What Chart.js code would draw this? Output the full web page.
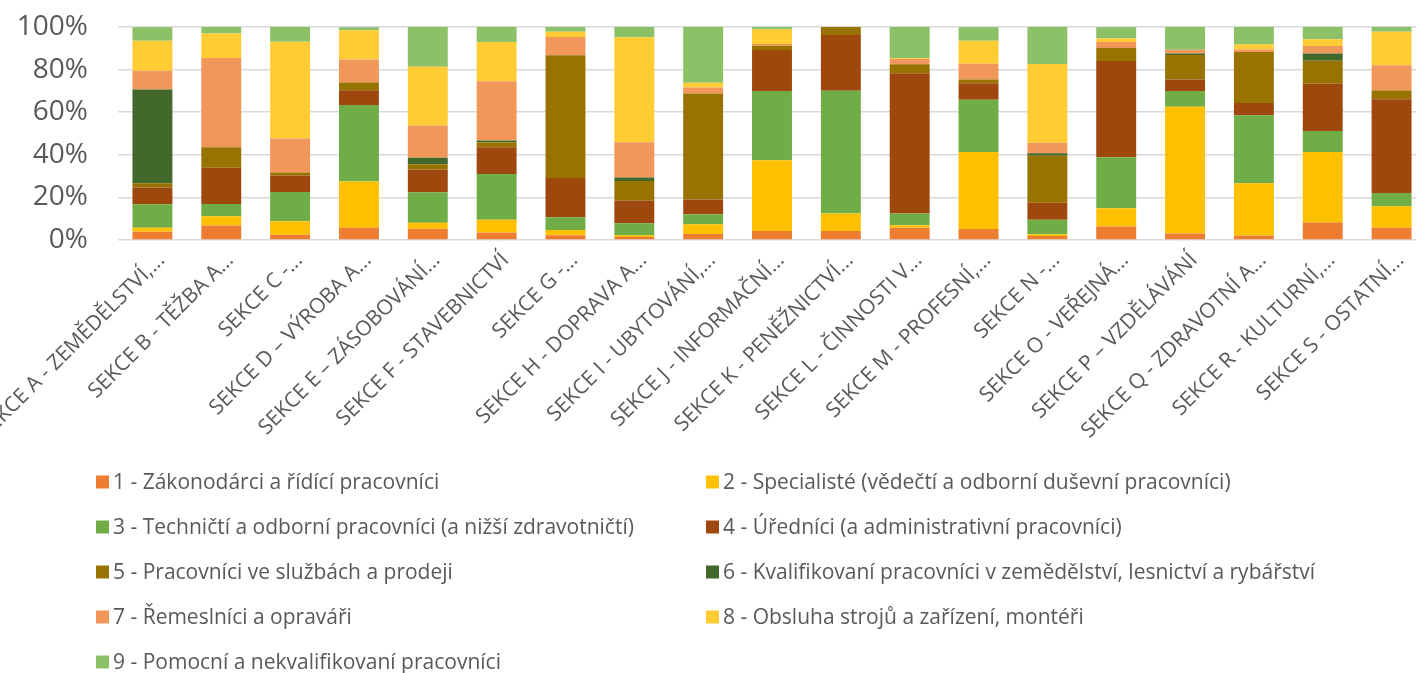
<!DOCTYPE html>
<html lang="cs">
<head>
<meta charset="utf-8">
<script src="https://cdn.jsdelivr.net/npm/chart.js@4/dist/chart.umd.min.js"></script>
<style>
  html, body { margin: 0; padding: 0; overflow: hidden; background: #ffffff; }
  #c { position: absolute; left: 0; top: 0; }
</style>
</head>
<body>
<canvas id="c" width="1426" height="673"></canvas>
<script>
// Sekce CZ-NACE
const categories = [
  'SEKCE A - ZEMĚDĚLSTVÍ,...', 'SEKCE B - TĚŽBA A...', 'SEKCE C -...', 'SEKCE D – VÝROBA A...',
  'SEKCE E – ZÁSOBOVÁNÍ...', 'SEKCE F - STAVEBNICTVÍ', 'SEKCE G -...', 'SEKCE H - DOPRAVA A...',
  'SEKCE I - UBYTOVÁNÍ,...', 'SEKCE J - INFORMAČNÍ...', 'SEKCE K - PENĚŽNICTVÍ...', 'SEKCE L - ČINNOSTI V...',
  'SEKCE M - PROFESNÍ,...', 'SEKCE N -...', 'SEKCE O - VEŘEJNÁ...', 'SEKCE P – VZDĚLÁVÁNÍ',
  'SEKCE Q - ZDRAVOTNÍ A...', 'SEKCE R - KULTURNÍ,...', 'SEKCE S - OSTATNÍ...'
];

// Podíl hlavních tříd CZ-ISCO v jednotlivých sekcích (%)
const zakonodarci   = [3.9, 6.8, 2.5, 5.8, 5.3, 3.5, 2.2, 1.4, 2.8, 4.2, 4.2, 5.8, 5.2, 1.9, 6.3, 3.1, 2.0, 8.2, 5.8];
const specialiste   = [1.9, 4.4, 6.3, 21.7, 2.8, 6.0, 2.5, 0.8, 4.6, 33.3, 8.3, 1.1, 36.1, 0.8, 8.6, 59.5, 24.6, 33.1, 10.0];
const technicti     = [11.0, 5.7, 13.7, 35.9, 14.3, 21.5, 6.0, 5.7, 4.7, 32.5, 57.6, 5.5, 24.6, 6.8, 23.9, 7.4, 32.0, 9.9, 6.3];
const urednici      = [7.8, 17.0, 7.8, 6.9, 10.7, 12.6, 18.4, 10.7, 6.9, 19.2, 26.1, 65.9, 7.7, 8.0, 45.2, 5.3, 5.7, 22.1, 44.0];
const sluzby        = [2.0, 9.6, 1.4, 3.6, 2.5, 2.2, 57.6, 9.1, 49.8, 2.0, 3.8, 4.2, 1.7, 22.1, 6.1, 11.5, 24.0, 10.8, 4.1];
const zemedelci     = [44.0, 0, 0, 0, 3.0, 0.9, 0, 1.6, 0, 0, 0, 0, 0, 1.1, 0, 0.8, 0, 3.5, 0];
const remeslnici    = [8.9, 41.9, 15.9, 10.8, 15.2, 27.8, 8.6, 16.6, 2.8, 0.8, 0, 2.5, 7.5, 4.9, 2.8, 1.7, 1.1, 3.5, 11.9];
const obsluha       = [14.1, 11.6, 45.5, 13.8, 27.5, 18.4, 2.5, 49.3, 2.2, 6.9, 0, 0.3, 10.7, 37.0, 1.7, 0, 2.4, 3.1, 15.7];
const pomocni       = [6.3, 3.0, 6.9, 1.4, 18.7, 7.2, 2.2, 4.9, 26.2, 1.1, 0, 14.9, 6.4, 17.4, 5.3, 10.7, 8.2, 5.8, 2.2];

const yTicks = [0, 20, 40, 60, 80, 100];

const seriesNames = [
  '1 - Zákonodárci a řídící pracovníci',
  '2 - Specialisté (vědečtí a odborní duševní pracovníci)',
  '3 - Techničtí a odborní pracovníci (a nižší zdravotničtí)',
  '4 - Úředníci (a administrativní pracovníci)',
  '5 - Pracovníci ve službách a prodeji',
  '6 - Kvalifikovaní pracovníci v zemědělství, lesnictví a rybářství',
  '7 - Řemeslníci a opraváři',
  '8 - Obsluha strojů a zařízení, montéři',
  '9 - Pomocní a nekvalifikovaní pracovníci'
];
const seriesValues = [zakonodarci, specialiste, technicti, urednici, sluzby, zemedelci, remeslnici, obsluha, pomocni];
const seriesColors = ['#ED7D31', '#FFC000', '#70AD47', '#9E480E', '#997300', '#43682B', '#F1975A', '#FFCD33', '#8CC168'];

const textColor = '#595959';
const fontFamily = "'Open Sans', 'Noto Sans', sans-serif";

// Legenda ve dvou sloupcích pod grafem
const gridLegend = {
  id: 'gridLegend',
  afterDraw(chart, args, opts) {
    const ctx = chart.ctx;
    ctx.save();
    ctx.font = opts.size + 'px ' + fontFamily;
    ctx.textBaseline = 'middle';
    ctx.textAlign = 'left';
    chart.data.datasets.forEach((ds, i) => {
      const x = opts.columns[i % 2];
      const y = opts.top + Math.floor(i / 2) * opts.rowGap;
      ctx.fillStyle = ds.backgroundColor;
      ctx.fillRect(x, y - opts.box / 2, opts.box, opts.box);
      ctx.fillStyle = textColor;
      ctx.fillText(ds.label, x + opts.box + opts.gap, y + 1);
    });
    ctx.restore();
  }
};

new Chart(document.getElementById('c'), {
  type: 'bar',
  data: {
    labels: categories,
    datasets: seriesValues.map((vals, i) => ({
      label: seriesNames[i],
      data: vals,
      backgroundColor: seriesColors[i],
      borderWidth: 0,
      categoryPercentage: 0.58,
      barPercentage: 1.0
    }))
  },
  options: {
    responsive: false,
    animation: false,
    layout: { padding: { top: 27, right: 0, bottom: 0, left: 0 } },
    plugins: {
      legend: { display: false },
      tooltip: { enabled: false },
      gridLegend: { columns: [96, 706], top: 482, rowGap: 45, box: 13, gap: 4, size: 21 }
    },
    scales: {
      x: {
        stacked: true,
        grid: { display: false },
        border: { display: false },
        ticks: {
          autoSkip: false,
          maxRotation: 45,
          minRotation: 45,
          padding: 0,
          labelOffset: 9,
          color: textColor,
          font: { family: fontFamily, size: 21 }
        },
        afterFit(scale) {
          scale.paddingLeft = 0;
          scale.paddingRight = 0;
          scale.height = 433;
        }
      },
      y: {
        stacked: true,
        min: 0,
        max: 100,
        afterBuildTicks(scale) {
          scale.ticks = yTicks.map(v => ({ value: v }));
        },
        grid: { color: '#d9d9d9', lineWidth: 1.5, drawTicks: false },
        border: { display: false },
        ticks: {
          padding: 30,
          color: textColor,
          font: { family: fontFamily, size: 28 },
          callback: v => v + '%'
        },
        afterFit(scale) {
          scale.width = 118;
          scale.paddingTop = 0;
          scale.paddingBottom = 0;
        }
      }
    }
  },
  plugins: [gridLegend]
});
</script>
</body>
</html>
